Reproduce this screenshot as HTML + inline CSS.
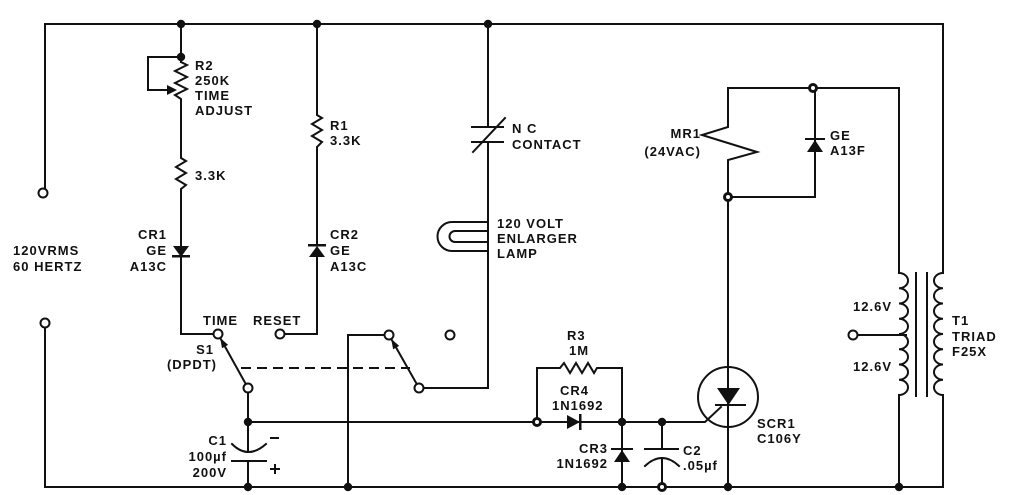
<!DOCTYPE html>
<html>
<head>
<meta charset="utf-8">
<style>
  html,body{margin:0;padding:0;background:#fff;}
  svg{display:block;}
  text{font-family:"Liberation Sans",sans-serif;font-weight:bold;font-size:13px;letter-spacing:1px;fill:#111;}
</style>
</head>
<body>
<svg width="1011" height="495" viewBox="0 0 1011 495" xmlns="http://www.w3.org/2000/svg">
<g fill="none" stroke="#111" stroke-width="2" stroke-linejoin="miter" stroke-linecap="square">
  <!-- outer rails -->
  <polyline points="45,189 45,24 943,24 943,273"/>
  <polyline points="45,327 45,487 943,487 943,395"/>

  <!-- R2 branch -->
  <line x1="181" y1="24" x2="181" y2="62"/>
  <polyline points="181,62 187,65 175,71 187,77 175,83 187,89 175,95 181,99 181,158 186,161 176,167 186,173 176,179 186,185 181,189 181,246"/>
  <polyline points="181,57 148,57 148,90 170,90"/>
  <line x1="181" y1="256" x2="181" y2="334"/>
  <line x1="181" y1="334" x2="214" y2="334"/>

  <!-- R1 branch -->
  <polyline points="317,24 317,115 322,118 312,124 322,130 312,136 322,142 317,147 317,245"/>
  <line x1="317" y1="257" x2="317" y2="334"/>
  <line x1="317" y1="334" x2="284" y2="334"/>

  <!-- S1 left pole -->
  <line x1="248" y1="388" x2="218" y2="334"/>
  <line x1="248" y1="392" x2="248" y2="452"/>
  <path d="M232 444 Q248 460 266 444"/>
  <line x1="232" y1="461" x2="266" y2="461"/>
  <line x1="248" y1="461" x2="248" y2="487"/>
  <line x1="271" y1="438" x2="278" y2="438"/>
  <line x1="271" y1="469" x2="279" y2="469"/>
  <line x1="275" y1="465" x2="275" y2="473"/>

  <!-- dashed mechanical link -->
  <line x1="241" y1="368" x2="410" y2="368" stroke-dasharray="10,6" stroke-linecap="butt"/>

  <!-- lamp / NC contact branch -->
  <line x1="488" y1="24" x2="488" y2="127"/>
  <line x1="472" y1="127" x2="503" y2="127"/>
  <line x1="472" y1="142" x2="503" y2="142"/>
  <line x1="473" y1="152" x2="505" y2="118"/>
  <polyline points="488,142 488,388 423,388"/>
  <path d="M486 222 H452 A14.5 14.5 0 0 0 452 251 H486"/>
  <path d="M486 231 H455 A5.5 5.5 0 0 0 455 242 H486"/>
  <line x1="419" y1="388" x2="389" y2="335"/>
  <polyline points="385,335 348,335 348,487"/>

  <!-- main horizontal -->
  <polyline points="248,422 705,422 721,407"/>
  <!-- R3 loop -->
  <polyline points="537,422 537,368 560,368 564,363 570,373 576,363 582,373 588,363 594,373 597,368 622,368 622,422"/>
  <!-- CR3 -->
  <line x1="622" y1="422" x2="622" y2="487"/>
  <line x1="612" y1="449" x2="632" y2="449"/>
  <!-- C2 -->
  <line x1="662" y1="422" x2="662" y2="449"/>
  <line x1="645" y1="449" x2="678" y2="449"/>
  <path d="M645 466 Q662 450 679 466"/>
  <line x1="662" y1="458" x2="662" y2="487"/>

  <!-- SCR -->
  <circle cx="728" cy="397" r="30"/>
  <line x1="728" y1="197" x2="728" y2="487"/>
  <line x1="716" y1="405" x2="745" y2="405"/>

  <!-- MR1 loop -->
  <polyline points="899,273 899,88 728,88 728,127 702,135 757,152 728,160 728,197 815,197 815,88"/>
  <line x1="806" y1="139" x2="824" y2="139"/>

  <!-- transformer -->
  <path d="M899 273 a9 7.625 0 0 1 0 15.25 a9 7.625 0 0 1 0 15.25 a9 7.625 0 0 1 0 15.25 a9 7.625 0 0 1 0 15.25 a9 7.625 0 0 1 0 15.25 a9 7.625 0 0 1 0 15.25 a9 7.625 0 0 1 0 15.25 a9 7.625 0 0 1 0 15.25"/>
  <path d="M943 273 a9 7.625 0 0 0 0 15.25 a9 7.625 0 0 0 0 15.25 a9 7.625 0 0 0 0 15.25 a9 7.625 0 0 0 0 15.25 a9 7.625 0 0 0 0 15.25 a9 7.625 0 0 0 0 15.25 a9 7.625 0 0 0 0 15.25 a9 7.625 0 0 0 0 15.25"/>
  <line x1="899" y1="395" x2="899" y2="487"/>
  <line x1="916" y1="273" x2="916" y2="396"/>
  <line x1="927" y1="273" x2="927" y2="396"/>
  <line x1="857" y1="335" x2="906" y2="335"/>
</g>

<!-- filled shapes -->
<g fill="#111" stroke="none">
  <polygon points="177,90 167,85 167,95"/>
  <polygon points="173,246 189,246 181,257"/>
  <rect x="172" y="255" width="18" height="2.5"/>
  <polygon points="309,257 325,257 317,246"/>
  <rect x="308" y="244" width="18" height="2.5"/>
  <polygon points="567,415 567,429 580,422"/>
  <rect x="579" y="414" width="2.5" height="16"/>
  <polygon points="614,462 630,462 622,450"/>
  <polygon points="717,388 740,388 728.5,405"/>
  <polygon points="807,152 823,152 815,140"/>
  <polygon points="220.2,337.9 228.1,344.9 222.0,348.3"/>
  <polygon points="391.2,338.9 399.2,345.9 393.1,349.3"/>
  <circle cx="181" cy="24" r="4.2"/>
  <circle cx="317" cy="24" r="4.2"/>
  <circle cx="488" cy="24" r="4.2"/>
  <circle cx="181" cy="57" r="4.2"/>
  <circle cx="248" cy="422" r="4.2"/>
  <circle cx="248" cy="487" r="4.2"/>
  <circle cx="348" cy="487" r="4.2"/>
  <circle cx="622" cy="422" r="4.2"/>
  <circle cx="662" cy="422" r="4.2"/>
  <circle cx="622" cy="487" r="4.2"/>
  <circle cx="728" cy="487" r="4.2"/>
  <circle cx="899" cy="487" r="4.2"/>
</g>

<!-- ring junctions -->
<g fill="#fff" stroke="#111" stroke-width="3">
  <circle cx="537" cy="422" r="3.5"/>
  <circle cx="813" cy="88" r="3.5"/>
  <circle cx="728" cy="197" r="3.5"/>
  <circle cx="662" cy="487" r="3.5"/>
</g>

<!-- open terminals -->
<g fill="#fff" stroke="#111" stroke-width="2">
  <circle cx="43" cy="193" r="4.5"/>
  <circle cx="45" cy="323" r="4.5"/>
  <circle cx="218" cy="334" r="4.5"/>
  <circle cx="280" cy="334" r="4.5"/>
  <circle cx="248" cy="388" r="4.5"/>
  <circle cx="389" cy="335" r="4.5"/>
  <circle cx="450" cy="335" r="4.5"/>
  <circle cx="419" cy="388" r="4.5"/>
  <circle cx="853" cy="335" r="4.5"/>
</g>

<!-- labels -->
<text x="13" y="255">120VRMS</text>
<text x="13" y="271">60 HERTZ</text>

<text x="195" y="70">R2</text>
<text x="195" y="85">250K</text>
<text x="195" y="100">TIME</text>
<text x="195" y="115">ADJUST</text>
<text x="195" y="180">3.3K</text>

<text x="330" y="130">R1</text>
<text x="330" y="145">3.3K</text>

<text x="167" y="239" text-anchor="end">CR1</text>
<text x="167" y="255" text-anchor="end">GE</text>
<text x="167" y="271" text-anchor="end">A13C</text>

<text x="330" y="239">CR2</text>
<text x="330" y="255">GE</text>
<text x="330" y="271">A13C</text>

<text x="203" y="325">TIME</text>
<text x="253" y="325">RESET</text>

<text x="214" y="354" text-anchor="end">S1</text>
<text x="217" y="369" text-anchor="end">(DPDT)</text>

<text x="227" y="445" text-anchor="end">C1</text>
<text x="227" y="461" text-anchor="end">100µf</text>
<text x="227" y="477" text-anchor="end">200V</text>

<text x="512" y="133">N C</text>
<text x="512" y="149">CONTACT</text>

<text x="497" y="228">120 VOLT</text>
<text x="497" y="243">ENLARGER</text>
<text x="497" y="258">LAMP</text>

<text x="567" y="340">R3</text>
<text x="569" y="355">1M</text>
<text x="560" y="395">CR4</text>
<text x="552" y="410">1N1692</text>

<text x="608" y="453" text-anchor="end">CR3</text>
<text x="608" y="468" text-anchor="end">1N1692</text>

<text x="683" y="455">C2</text>
<text x="683" y="470">.05µf</text>

<text x="757" y="428">SCR1</text>
<text x="757" y="443">C106Y</text>

<text x="701" y="138" text-anchor="end">MR1</text>
<text x="701" y="156" text-anchor="end">(24VAC)</text>

<text x="830" y="140">GE</text>
<text x="830" y="155">A13F</text>

<text x="892" y="311" text-anchor="end">12.6V</text>
<text x="892" y="371" text-anchor="end">12.6V</text>

<text x="952" y="325">T1</text>
<text x="952" y="341">TRIAD</text>
<text x="952" y="356">F25X</text>
</svg>
</body>
</html>
